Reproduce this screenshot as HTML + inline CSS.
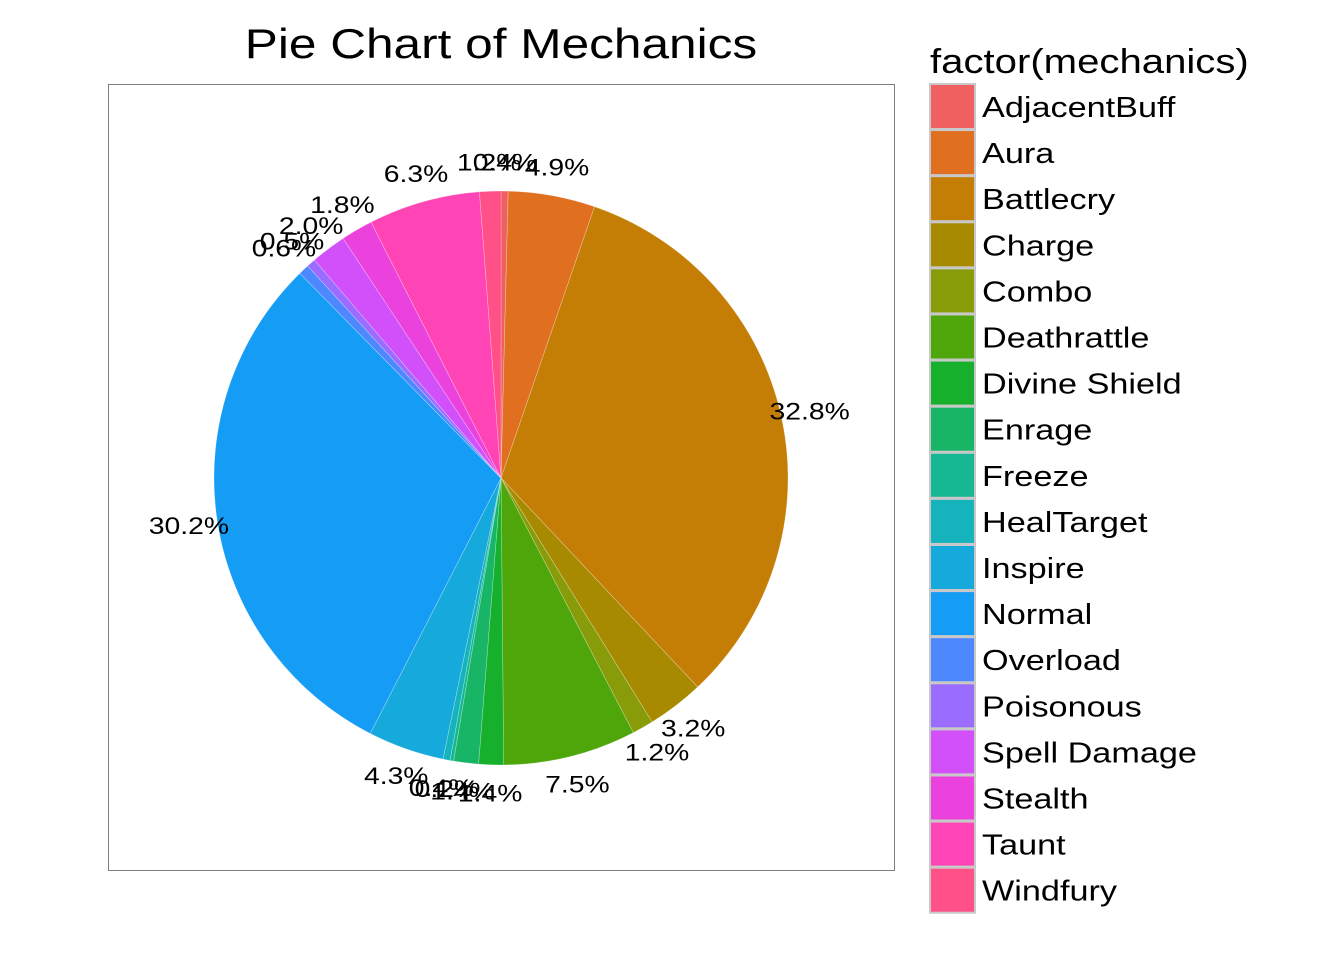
<!DOCTYPE html>
<html><head><meta charset="utf-8"><style>
body{margin:0;background:#fff}
svg{display:block;font-family:"Liberation Sans",Arial,sans-serif}
</style></head><body>
<svg id="chart" width="1344" height="960">
<rect x="0" y="0" width="1344" height="960" fill="#fff"/>
<text class="st" x="501" y="58" font-size="42" text-anchor="middle">Pie Chart of Mechanics</text>
<rect x="108.5" y="84.5" width="786" height="786" fill="none" stroke="#7f7f7f" stroke-width="1"/>
<g id="slices"></g>
<g id="labels"></g>
<text class="st" x="930" y="73" font-size="34">factor(mechanics)</text>
<g id="legend"></g>
</svg>
<script>
const categories=["AdjacentBuff","Aura","Battlecry","Charge","Combo","Deathrattle","Divine Shield","Enrage","Freeze","HealTarget","Inspire","Normal","Overload","Poisonous","Spell Damage","Stealth","Taunt","Windfury"];
const values=[0.4,4.9,32.8,3.2,1.2,7.5,1.4,1.4,0.2,0.4,4.3,30.2,0.6,0.5,2.0,1.8,6.3,1.2];
const valueLabels=["0.4%","4.9%","32.8%","3.2%","1.2%","7.5%","1.4%","1.4%","0.2%","0.4%","4.3%","30.2%","0.6%","0.5%","2.0%","1.8%","6.3%","1.2%"];
const colors=["#F06060","#E07020","#C57E05","#A88A00","#889C0A","#4EA60A","#16B02C","#18B566","#16B894","#15B3BC","#16AADC","#159CF5","#4D88FF","#9A6CFF","#D150FA","#EC42DD","#FF45B5","#FF5088"];
const NS="http://www.w3.org/2000/svg";
const cx=501,cy=478,R=287;
const total=values.reduce((a,b)=>a+b,0);
function ang(v){return v/total*2*Math.PI;}
function pt(a,r){return [cx+r*Math.sin(a),cy-r*Math.cos(a)];}
const gS=document.getElementById('slices'),gL=document.getElementById('labels'),gG=document.getElementById('legend');
let acc=0;
values.forEach((v,i)=>{
  const a0=ang(acc),a1=ang(acc+v);acc+=v;
  const p0=pt(a0,R),p1=pt(a1,R);
  const large=(a1-a0)>Math.PI?1:0;
  const p=document.createElementNS(NS,'path');
  p.setAttribute('d',`M${cx},${cy}L${p0[0]},${p0[1]}A${R},${R} 0 ${large} 1 ${p1[0]},${p1[1]}Z`);
  p.setAttribute('fill',colors[i]);
  p.setAttribute('stroke','rgba(255,255,255,0.4)');
  p.setAttribute('stroke-width','0.6');
  
  
  gS.appendChild(p);
  const m=(a0+a1)/2,lp=pt(m,R*1.1);
  const t=document.createElementNS(NS,'text');
  t.setAttribute('class','st');
  t.setAttribute('x',lp[0]);t.setAttribute('y',lp[1]+8);
  t.setAttribute('font-size','24');t.setAttribute('text-anchor','middle');
  t.textContent=valueLabels[i];
  
  
  gL.appendChild(t);
  const y=84+i*46.1;
  const r=document.createElementNS(NS,'rect');
  r.setAttribute('x',930);r.setAttribute('y',y);r.setAttribute('width',45);r.setAttribute('height',45);
  r.setAttribute('fill',colors[i]);r.setAttribute('stroke','#c8c8c8');r.setAttribute('stroke-width','2');
  
  
  gG.appendChild(r);
  const lt=document.createElementNS(NS,'text');
  lt.setAttribute('class','st');
  lt.setAttribute('x',982);lt.setAttribute('y',y+33);lt.setAttribute('font-size','29');
  lt.textContent=categories[i];
  
  
  gG.appendChild(lt);
});
document.querySelectorAll('text.st').forEach(t=>{
  const w=t.getComputedTextLength();
  t.setAttribute('textLength',(w*1.18).toFixed(1));
  t.setAttribute('lengthAdjust','spacingAndGlyphs');
});
</script>
</body></html>
